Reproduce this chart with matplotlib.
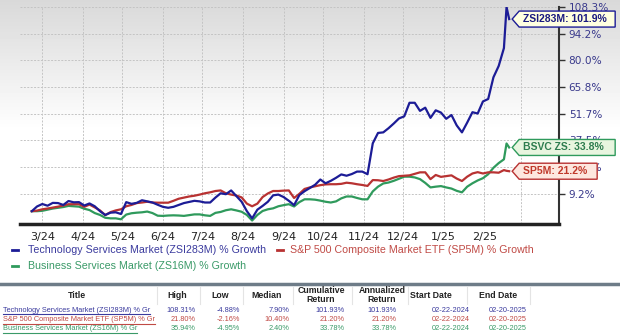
import numpy as np
import pandas as pd
import matplotlib.pyplot as plt
import matplotlib.dates as mdates
from matplotlib.patches import Polygon
from matplotlib.lines import Line2D
from matplotlib.transforms import IdentityTransform

# sample dates: every 4 days from 2/22/2024, plus the last two sessions
dates = list(pd.date_range("2024-02-22", periods=91, freq="4D")) + \
    [pd.Timestamp("2025-02-18"), pd.Timestamp("2025-02-20")]

tech = [0, 2.5, 3.8, 2.9, 4.4, 4.3, 3.3, 5.4, 4.7, 4.8,
        3.0, 4.1, 2.6, 0.0, -2.0, -0.8, -0.6, -1.5, 4.8, 3.9,
        4.4, 5.8, 5.2, 4.6, 3.4, 2.3, 1.8, 2.3, 3.3, 4.3,
        4.9, 5.5, 5.2, 4.6, 4.6, 7.2, 9.5, 9.0, 11.0, 8.0,
        5.0, 0.0, -3.8, 0.8, 2.8, 5.0, 8.4, 8.8, 7.5, 5.5,
        3.2, 8.5, 10.6, 12.3, 14.0, 16.8, 14.8, 16.1, 17.7, 19.5,
        18.8, 19.7, 21.0, 21.0, 19.6, 36.0, 41.5, 41.8, 44.0, 46.5,
        49.2, 50.3, 57.5, 57.5, 53.2, 54.9, 49.5, 53.5, 52.3, 49.0,
        51.0, 45.5, 41.8, 47.0, 52.5, 51.8, 58.2, 59.5, 71.0, 77.0,
        86.5, 108.3, 101.9]

sp5m = [0, 0.3, 1.0, 1.4, 1.9, 2.4, 3.0, 3.7, 3.7, 3.7,
        2.3, 3.5, 2.0, 0.4, -2.1, -0.5, 0.4, 1.0, 2.6, 3.3,
        4.3, 4.6, 5.0, 4.6, 4.5, 4.5, 4.5, 5.5, 6.6, 7.2,
        7.8, 8.2, 8.8, 9.5, 10.0, 10.7, 11.0, 9.5, 8.8, 8.3,
        7.3, 4.0, 2.6, 4.0, 7.5, 9.4, 10.7, 10.7, 10.9, 11.0,
        7.0, 9.2, 11.8, 12.6, 13.2, 13.8, 14.2, 14.3, 14.3, 14.5,
        15.1, 14.8, 14.3, 13.9, 13.4, 16.5, 16.4, 16.0, 16.8, 17.8,
        18.6, 18.8, 19.0, 19.8, 20.6, 20.6, 17.0, 19.2, 18.2, 18.6,
        19.0, 17.3, 16.0, 18.3, 20.0, 20.7, 20.0, 20.6, 20.6, 20.4,
        21.8, 21.4, 21.2]

bsvc = [0, 0, 0.2, 0.8, 1.4, 1.8, 2.2, 2.8, 2.6, 2.4,
        1.3, 0.6, -1.0, -2.0, -3.5, -3.8, -3.8, -4.3, -1.8, -1.1,
        -0.8, -0.6, -0.2, -1.0, -2.4, -2.5, -2.3, -2.2, -2.3, -2.5,
        -2.1, -1.7, -1.7, -2.2, -2.5, -0.9, -0.4, 0.5, 1.0, 0.4,
        -0.3, -2.0, -4.95, -2.0, 0.1, 1.0, 1.5, 2.6, 3.2, 3.7,
        2.5, 4.8, 6.3, 6.3, 6.1, 5.6, 5.0, 4.6, 5.2, 6.8,
        7.8, 7.8, 7.0, 6.3, 6.3, 10.5, 13.0, 14.7, 15.2, 16.1,
        17.2, 18.3, 18.3, 17.9, 17.0, 15.0, 12.6, 13.0, 13.3, 12.6,
        12.0, 10.8, 10.0, 13.0, 14.8, 16.3, 17.5, 19.6, 23.0, 25.5,
        27.5, 35.9, 33.8]

yticks = [9.2, 23.3, 37.5, 51.7, 65.8, 80.0, 94.2, 108.3]
months = ["2024-03-01", "2024-04-01", "2024-05-01", "2024-06-01", "2024-07-01",
          "2024-08-01", "2024-09-01", "2024-10-01", "2024-11-01", "2024-12-01",
          "2025-01-01", "2025-02-01", "2025-03-01"]
month_labels = ["3/24", "4/24", "5/24", "6/24", "7/24", "8/24", "9/24",
                "10/24", "11/24", "12/24", "1/25", "2/25", ""]

# table below the chart
row_titles = ["Technology Services Market (ZSI283M) % Gr",
              "S&P 500 Composite Market ETF (SP5M) % Gr",
              "Business Services Market (ZS16M) % Gr"]
high = ["108.31%", "21.80%", "35.94%"]
low = ["-4.88%", "-2.16%", "-4.95%"]
median = ["7.90%", "10.40%", "2.40%"]
cumulative = ["101.93%", "21.20%", "33.78%"]
annualized = ["101.93%", "21.20%", "33.78%"]
start = ["02-22-2024"] * 3
end = ["02-20-2025"] * 3

BLUE = "#1c1c96"
RED = "#b83232"
GREEN = "#2f9a5c"
text_cols = ["#3b3b9e", "#c04a45", "#3a9a68"]

W, H = 620, 335
fig = plt.figure(figsize=(W / 100, H / 100), dpi=100)


def fx(x):
    return x / W


def fy(y):
    return 1 - y / H


# grey fade at the top of the chart area
bg = fig.add_axes([0, 0, 1, 1], zorder=-10)
bg.axis("off")
rows = np.arange(H)
shade = np.clip(0.85 + 0.15 * rows / 130, 0, 1)
bg.imshow(np.repeat(shade[:, None], 4, axis=1), cmap="gray", vmin=0, vmax=1,
          aspect="auto", extent=[0, 1, 0, 1])

ax = fig.add_axes([fx(20), fy(224), fx(539), (224 - 7) / H])
ax.patch.set_alpha(0)

ax.plot(dates, bsvc, color=GREEN, lw=1.6, zorder=3)
ax.plot(dates, sp5m, color=RED, lw=1.6, zorder=4)
ax.plot(dates, tech, color=BLUE, lw=1.6, zorder=5)

ax.set_xlim(pd.Timestamp("2024-02-13"), pd.Timestamp("2025-03-30"))
ax.set_ylim(-6.8, 108.3)

ax.set_xticks([pd.Timestamp(m) for m in months])
ax.set_xticklabels(month_labels)
ax.set_yticks(yticks)
ax.set_yticklabels([f"{v:.1f}%" for v in yticks])
ax.yaxis.tick_right()
ax.tick_params(axis="x", length=0, pad=6, labelsize=8, labelcolor="#222222")
ax.tick_params(axis="y", length=4, width=1, pad=3, labelsize=7.6,
               labelcolor="#3a3a8c", color="#333333")

ax.grid(True, color="#c4c4c4", lw=0.7, linestyle=(0, (2, 1.5)))
for s in ["top", "left"]:
    ax.spines[s].set_visible(False)
ax.spines["bottom"].set_color("#222222")
ax.spines["bottom"].set_linewidth(2.5)
ax.spines["right"].set_color("#333333")
ax.spines["right"].set_linewidth(1.5)

# end-of-line value tags
fig.canvas.draw()
tags = [("ZSI283M: 101.9%", tech[-1], 96, "#ffffe0", BLUE, "#1a1a80"),
        ("BSVC ZS: 33.8%", bsvc[-1], 96, "#e8f5df", GREEN, "#2e7d4f"),
        ("SP5M: 21.2%", sp5m[-1], 78, "#fde7df", RED, "#c0392b")]
for label, val, width, face, edge, tc in tags:
    px, py = ax.transData.transform((mdates.date2num(dates[-1]), val))
    tip = px + 3
    h = 8
    verts = [(tip, py), (tip + 7, py + h), (tip + 7 + width, py + h),
             (tip + 7 + width, py - h), (tip + 7, py - h)]
    fig.add_artist(Polygon(verts, closed=True, facecolor=face, edgecolor=edge,
                           lw=1, transform=IdentityTransform(), zorder=5))
    fig.text(tip + 11, py, label, transform=IdentityTransform(), ha="left",
             va="center", fontsize=7.5, fontweight="bold", family="Liberation Sans",
             color=tc, zorder=6)

# legend
legend_items = [(15, 28, 250, "Technology Services Market (ZSI283M) % Growth", BLUE, text_cols[0]),
                (280, 290, 250, "S&P 500 Composite Market ETF (SP5M) % Growth", RED, text_cols[1]),
                (15, 28, 266, "Business Services Market (ZS16M) % Growth", GREEN, text_cols[2])]
for dx, tx, y, label, lc, tc in legend_items:
    fig.add_artist(Line2D([fx(dx - 3), fx(dx + 3)], [fy(y), fy(y)], color=lc, lw=2))
    fig.text(fx(tx), fy(y), label, ha="left", va="center", fontsize=7.7,
             family="Liberation Sans", color=tc)

# divider above the table
fig.add_artist(Line2D([0, 1], [fy(284), fy(284)], color="#6e7c88", lw=2.5))

headers = [("Title", 77), ("High", 177), ("Low", 220), ("Median", 267),
           ("Cumulative\nReturn", 321), ("Annualized\nReturn", 382),
           ("Start Date", 431), ("End Date", 498)]
for txt, x in headers:
    fig.text(fx(x), fy(295), txt, ha="center", va="center", fontsize=6.3,
             fontweight="bold", family="Liberation Sans", color="#222222",
             linespacing=1.05)
for x in [157, 200, 243, 293, 352, 408, 467, 530]:
    fig.add_artist(Line2D([fx(x), fx(x)], [fy(287), fy(304)], color="#e4e4e4", lw=0.8))

renderer = fig.canvas.get_renderer()
row_y = [310, 319.5, 329]
cols = [(high, 196), (low, 240), (median, 289), (cumulative, 345),
        (annualized, 397), (start, 470), (end, 527)]
for i, y in enumerate(row_y):
    t = fig.text(fx(3), fy(y), row_titles[i], ha="left", va="center", fontsize=5.3,
                 family="Liberation Sans", color=text_cols[i])
    bb = t.get_window_extent(renderer)
    fig.add_artist(Line2D([bb.x0, bb.x1], [bb.y0 - 0.5, bb.y0 - 0.5], color=text_cols[i],
                          lw=0.8, transform=IdentityTransform()))
    for values, x in cols:
        fig.text(fx(x), fy(y), values[i], ha="right", va="center", fontsize=5.3,
                 family="Liberation Sans", color=text_cols[i])

fig.savefig("out.png", dpi=100)
